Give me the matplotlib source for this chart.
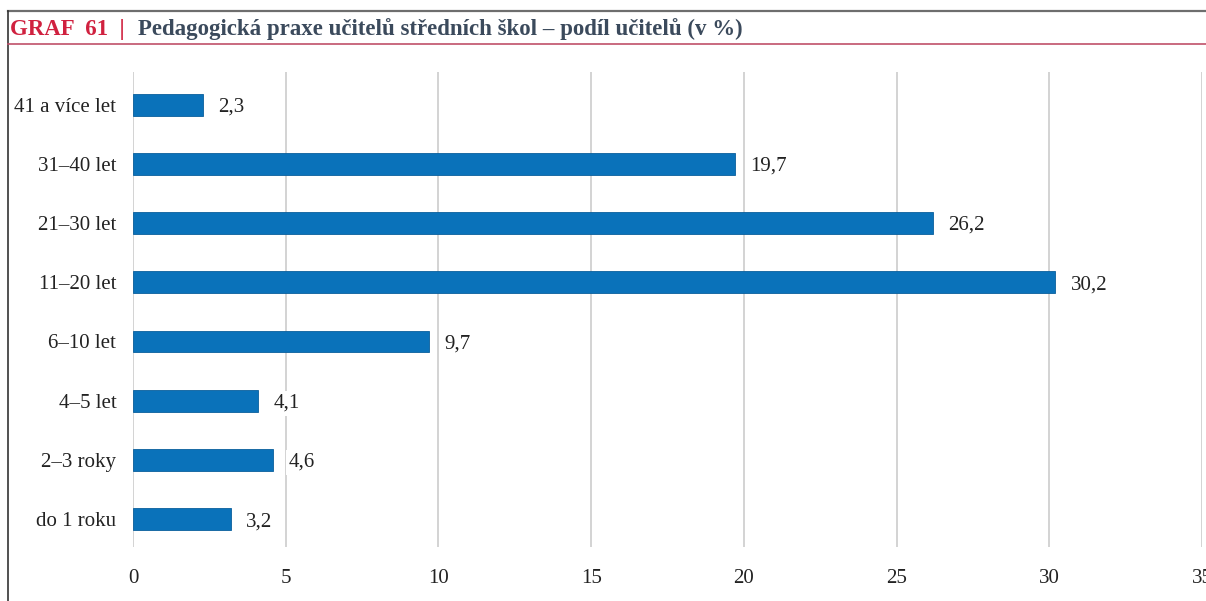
import matplotlib.pyplot as plt
from matplotlib.lines import Line2D

plt.rcParams["font.family"] = ["Liberation Serif", "DejaVu Serif"]

categories = ["do 1 roku", "2–3 roky", "4–5 let", "6–10 let",
              "11–20 let", "21–30 let", "31–40 let", "41 a více let"]
values = [3.2, 4.6, 4.1, 9.7, 30.2, 26.2, 19.7, 2.3]
labels = ["3,2", "4,6", "4,1", "9,7", "30,2", "26,2", "19,7", "2,3"]
xticks = [0, 5, 10, 15, 20, 25, 30, 35]

W, H = 1206, 601
fig = plt.figure(figsize=(W / 100, H / 100), dpi=100)

# axes placed in pixel terms (the "35" tick sits right on the figure edge)
x0, x1 = 133, 1202
y_top, y_bot = 72, 547
ax = fig.add_axes([x0 / W, 1 - y_bot / H, (x1 - x0) / W, (y_bot - y_top) / H])

ypos = list(range(len(categories)))
ax.barh(ypos, values, height=0.37, color="#0a72ba", edgecolor="#0a5f9c",
        linewidth=0.6, zorder=3)

for y, v, lab in zip(ypos, values, labels):
    ax.text(v + 0.5, y, lab, va="center_baseline", ha="left", fontsize=15,
            color="#222222", zorder=4,
            bbox=dict(boxstyle="square,pad=0.15", fc="white", ec="none"))

ax.set_xlim(0, 35)
ax.set_ylim(-0.47, 7.55)
ax.set_xticks(xticks)
ax.set_xticklabels([str(t) for t in xticks], fontsize=15, color="#222222")
ax.set_yticks(ypos)
ax.set_yticklabels(categories, fontsize=15, color="#222222")
ax.tick_params(axis="both", length=0)
ax.tick_params(axis="y", pad=12)
ax.tick_params(axis="x", pad=16)
ax.xaxis.grid(True, color="#d0d0d0", linewidth=1.3, zorder=0)
ax.set_axisbelow(True)
for s in ax.spines.values():
    s.set_visible(False)

# frame lines and title bar
fig.add_artist(Line2D([8 / W, 1], [1 - 11 / H, 1 - 11 / H], color="#6e6e6e", linewidth=1.6))
fig.add_artist(Line2D([8 / W, 8 / W], [0, 1 - 11 / H], color="#333333", linewidth=1.2))
fig.add_artist(Line2D([8 / W, 1], [1 - 44 / H, 1 - 44 / H], color="#c0506a", linewidth=1.2))

fig.text(10 / W, 1 - 29 / H, "GRAF  61  |", fontsize=16.5, fontweight="bold",
         color="#d0213f", va="center", ha="left")
fig.text(138 / W, 1 - 29 / H, "Pedagogická praxe učitelů středních škol – podíl učitelů (v %)",
         fontsize=16.5, fontweight="bold", color="#3b4a5c", va="center", ha="left")

fig.savefig("out.png", dpi=100)
